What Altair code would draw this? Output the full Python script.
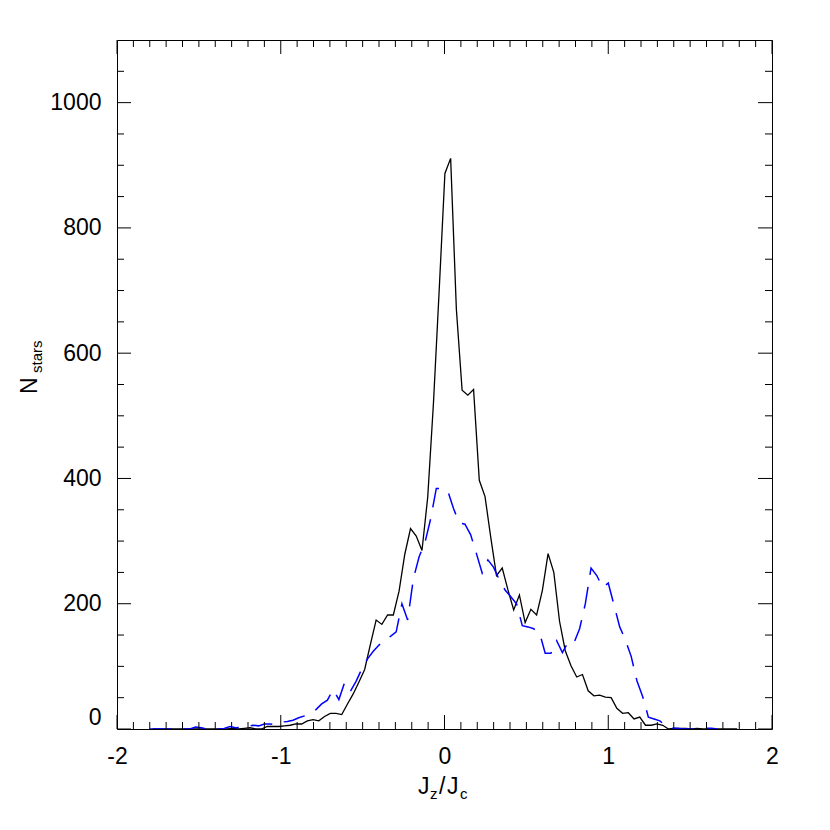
import altair as alt
import pandas as pd

FONT = "Liberation Sans"

# left edges of the histogram bins (width 0.035)
BIN_EDGES = [
    -1.800, -1.765, -1.730, -1.695, -1.660, -1.625, -1.590, -1.555, -1.520, -1.485,
    -1.450, -1.415, -1.380, -1.345, -1.310, -1.275, -1.240, -1.205, -1.170, -1.135,
    -1.100, -1.065, -1.030, -0.995, -0.960, -0.925, -0.890, -0.855, -0.820, -0.785,
    -0.750, -0.715, -0.680, -0.645, -0.610, -0.575, -0.540, -0.505, -0.470, -0.435,
    -0.400, -0.365, -0.330, -0.295, -0.260, -0.225, -0.190, -0.155, -0.120, -0.085,
    -0.050, -0.015, 0.020, 0.055, 0.090, 0.125, 0.160, 0.195, 0.230, 0.265,
    0.300, 0.335, 0.370, 0.405, 0.440, 0.475, 0.510, 0.545, 0.580, 0.615,
    0.650, 0.685, 0.720, 0.755, 0.790, 0.825, 0.860, 0.895, 0.930, 0.965,
    1.000, 1.035, 1.070, 1.105, 1.140, 1.175, 1.210, 1.245, 1.280, 1.315,
    1.350, 1.385, 1.420, 1.455, 1.490, 1.525, 1.560, 1.595, 1.630, 1.665,
    1.700, 1.735, 1.770,
]
BIN_WIDTH = 0.035

# black solid histogram (plotted at bin centres)
BLACK_COUNTS = [
    0, 0, 0, 0, 0, 0, 0, 0, 0, 0,
    0, 0, 0, 0, 1, 0, 1, 2, 0, 0,
    4, 4, 4, 5, 6, 8, 8, 13, 15, 13,
    20, 25, 25, 23, 40, 56, 75, 95, 135, 174,
    167, 182, 182, 220, 279, 320, 308, 285, 370, 520,
    700, 887, 911, 670, 541, 533, 542, 397, 371, 306,
    245, 257, 222, 190, 214, 170, 191, 182, 221, 280,
    250, 172, 125, 101, 83, 87, 61, 53, 54, 51,
    50, 33, 25, 26, 16, 19, 6, 6, 8, 6,
    0, 1, 1, 1, 0, 1, 0, 0, 0, 0,
    0, 0, 0,
]

# blue dashed histogram (plotted at bin left edges)
BLUE_COUNTS = [
    0, 0, 0, 0, 0, 0, 0, 0, 3, 2,
    0, 0, 0, 1, 4, 2, 3, 4, 6, 5,
    8, 8, 7, 11, 12, 14, 18, 21, 25, 31,
    40, 46, 63, 47, 74, 60, 76, 96, 112, 124,
    134, 142, 148, 155, 200, 174, 240, 275, 297, 335,
    384, 384, 380, 352, 329, 327, 310, 280, 249, 270,
    258, 238, 222, 211, 200, 165, 163, 160, 154, 121,
    121, 141, 122, 139, 137, 160, 200, 257, 245, 226,
    233, 198, 163, 142, 116, 77, 52, 19, 16, 13,
    5, 1, 1, 0, 0, 0, 0, 1, 1, 0,
]

X_MAJOR = [-2, -1, 0, 1, 2]
X_MINOR = [-1.9, -1.8, -1.7, -1.6, -1.5, -1.4, -1.3, -1.2, -1.1,
           -0.9, -0.8, -0.7, -0.6, -0.5, -0.4, -0.3, -0.2, -0.1,
           0.1, 0.2, 0.3, 0.4, 0.5, 0.6, 0.7, 0.8, 0.9,
           1.1, 1.2, 1.3, 1.4, 1.5, 1.6, 1.7, 1.8, 1.9]
Y_MAJOR = [0, 200, 400, 600, 800, 1000]
Y_MINOR = [50, 100, 150, 250, 300, 350, 450, 500, 550, 650, 700, 750,
           850, 900, 950, 1050]

W, H = 655, 689
MAJ, MIN = 14, 7
LABEL_SIZE = 23
SUB_SIZE = 15

black_df = pd.DataFrame({"jz": [e + BIN_WIDTH / 2 for e in BIN_EDGES], "n": BLACK_COUNTS})
blue_df = pd.DataFrame({"jz": BIN_EDGES[:len(BLUE_COUNTS)], "n": BLUE_COUNTS})

x_axis = alt.Axis(
    values=X_MAJOR, domain=False, ticks=False, tickSize=0, grid=False,
    labelExpr="'' + datum.value",
    labelFont=FONT, labelFontSize=LABEL_SIZE, labelColor="black",
    labelPadding=16, labelFlush=False, labelOverlap=False,
    title=None,
)
y_axis = alt.Axis(
    values=Y_MAJOR, domain=False, ticks=False, tickSize=0, grid=False,
    labelExpr="'' + datum.value",
    labelFont=FONT, labelFontSize=LABEL_SIZE, labelColor="black",
    labelPadding=16, labelFlush=True, labelFlushOffset=0, labelOverlap=False,
    title=None,
)

xs = alt.Scale(domain=[-2, 2], nice=False, zero=False)
ys = alt.Scale(domain=[0, 1100], nice=False, zero=False)

black = alt.Chart(black_df).mark_line(color="black", strokeWidth=1.3, clip=True).encode(
    x=alt.X("jz:Q", scale=xs, axis=x_axis),
    y=alt.Y("n:Q", scale=ys, axis=y_axis),
)
blue = alt.Chart(blue_df).mark_line(color="#0000ff", strokeWidth=1.5, strokeDash=[22, 12], clip=True).encode(
    x=alt.X("jz:Q", scale=xs),
    y=alt.Y("n:Q", scale=ys),
)


# inward ticks on all four sides
def xticks(vals, length):
    df = pd.DataFrame({"v": vals})
    base = alt.Chart(df).mark_rule(color="black", strokeWidth=1)
    bottom = base.encode(x=alt.X("v:Q", scale=xs), y=alt.value(H), y2=alt.value(H - length))
    top = base.encode(x=alt.X("v:Q", scale=xs), y=alt.value(0), y2=alt.value(length))
    return [bottom, top]


def yticks(vals, length):
    df = pd.DataFrame({"v": vals})
    base = alt.Chart(df).mark_rule(color="black", strokeWidth=1)
    left = base.encode(y=alt.Y("v:Q", scale=ys), x=alt.value(0), x2=alt.value(length))
    right = base.encode(y=alt.Y("v:Q", scale=ys), x=alt.value(W), x2=alt.value(W - length))
    return [left, right]


ticks = xticks(X_MAJOR, MAJ) + xticks(X_MINOR, MIN) + yticks(Y_MAJOR, MAJ) + yticks(Y_MINOR, MIN)

one = pd.DataFrame({"t": [0]})


def txt(s, x, y, size, angle=0):
    return alt.Chart(one).mark_text(
        text=s, font=FONT, fontSize=size, color="black", align="left",
        baseline="alphabetic", angle=angle,
    ).encode(x=alt.value(x), y=alt.value(y))


titles = [
    txt("J", 301, 754, LABEL_SIZE),
    txt("z", 313, 759, SUB_SIZE),
    txt("/", 322, 754, LABEL_SIZE),
    txt("J", 330, 754, LABEL_SIZE),
    txt("c", 343, 759, SUB_SIZE),
    txt("N", -80, 354, LABEL_SIZE, 270),
    txt("stars", -75, 333, SUB_SIZE, 270),
]

chart = alt.layer(black, blue, *ticks, *titles).properties(
    width=W, height=H,
    autosize=alt.AutoSizeParams(type="none"),
    padding={"left": 109, "top": 32, "right": 40, "bottom": 85},
).configure_view(stroke="black", strokeWidth=1)

chart.save("out.html", embed_options={"renderer": "svg", "actions": False})
